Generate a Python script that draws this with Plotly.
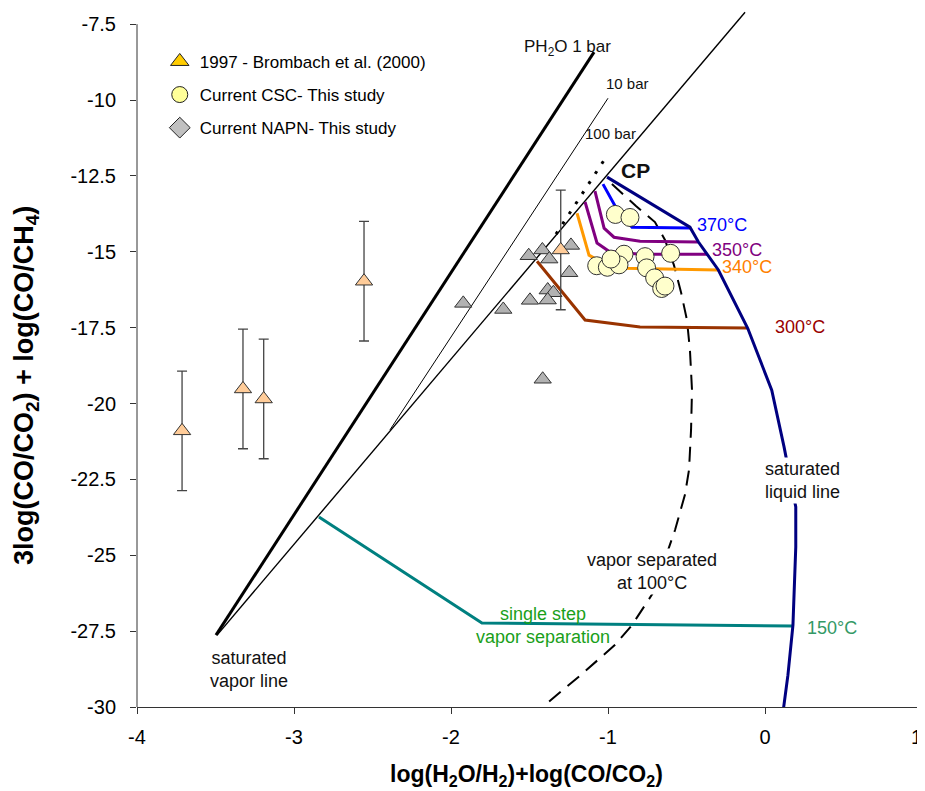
import plotly.graph_objects as go

# ---------------- data ----------------
# 1997 - Brombach et al. (2000)
bro_x = [-3.713, -3.325, -3.193, -2.554, -1.301]
bro_y = [-20.90, -19.52, -19.85, -15.97, -14.94]
bro_err = [1.97, 1.97, 1.97, 1.97, 1.97]

# Current NAPN - this study
napn_x = [-1.922, -1.667, -1.505, -1.418, -1.374, -1.236, -1.247, -1.497, -1.384, -1.348, -1.384, -1.416]
napn_y = [-16.70, -16.90, -15.13, -14.94, -15.24, -14.79, -15.69, -16.60, -16.26, -16.35, -16.59, -19.20]

# Current CSC - this study
csc_x = [-0.953, -0.860, -0.898, -0.764, -0.601, -1.072, -1.004, -0.930, -0.981, -0.754, -0.703, -0.658, -0.637]
csc_y = [-13.77, -13.87, -15.08, -15.16, -15.05, -15.46, -15.51, -15.43, -15.24, -15.53, -15.86, -16.21, -16.13]

# isobars / saturation curves
ph2o_1bar_x = [-3.497, -1.089]
ph2o_1bar_y = [-27.63, -8.42]
ph2o_10bar_x = [-2.389, -1.000]
ph2o_10bar_y = [-20.87, -9.94]
sat_vapor_x = [-3.490, -0.127]
sat_vapor_y = [-27.63, -7.105]
sat_liquid_x = [-1.006, -0.478, -0.425, -0.371, -0.297, -0.110, 0.043, 0.121, 0.196, 0.196, 0.178, 0.146, 0.115]
sat_liquid_y = [-12.54, -14.19, -14.67, -15.05, -15.60, -17.52, -19.56, -21.42, -23.41, -24.73, -27.30, -28.95, -30.16]

# vapor separated at 100 °C (dashed)
sep100_x = [-0.975, -0.822, -0.701, -0.637, -0.580, -0.535, -0.497, -0.478, -0.465, -0.471, -0.484, -0.510,
            -0.573, -0.637, -0.713, -0.847, -0.955, -1.172, -1.408, -1.471]
sep100_y = [-12.77, -13.49, -14.02, -14.61, -15.44, -16.33, -17.25, -18.24, -19.56, -20.87, -22.19, -23.01,
            -24.17, -25.15, -26.24, -27.30, -27.95, -28.94, -29.96, -30.66]

# dotted line near CP
dotted_x = [-1.331, -1.025]
dotted_y = [-14.42, -11.98]

# isotherms
t370_x = [-1.032, -0.955, -0.847, -0.478]
t370_y = [-12.77, -13.49, -14.19, -14.22]
t350a_x = [-1.083, -1.025, -0.962, -0.796, -0.427]
t350a_y = [-13.00, -14.22, -14.52, -14.65, -14.68]
t350b_x = [-1.146, -1.070, -0.994, -0.796, -0.369]
t350b_y = [-13.36, -14.71, -14.98, -15.08, -15.08]
t340_x = [-1.197, -1.121, -1.076, -0.892, -0.299]
t340_y = [-13.73, -15.11, -15.24, -15.54, -15.60]
t300_x = [-1.452, -1.146, -0.796, -0.108]
t300_y = [-15.31, -17.25, -17.48, -17.51]
t150_x = [-2.841, -1.803, 0.178]
t150_y = [-23.74, -27.23, -27.33]

y_ticks = [-30, -27.5, -25, -22.5, -20, -17.5, -15, -12.5, -10, -7.5]
y_tick_text = ["-30", "-27.5", "-25", "-22.5", "-20", "-17.5", "-15", "-12.5", "-10", "-7.5"]
x_ticks = [-4, -3, -2, -1, 0, 1]
x_tick_text = ["-4", "-3", "-2", "-1", "0", "1\u00a0\u00a0"]

FONT = "Liberation Sans, Arial, sans-serif"

fig = go.Figure()


def line(x, y, color, width, dash=None):
    fig.add_trace(go.Scatter(x=x, y=y, mode="lines", showlegend=False, hoverinfo="skip",
                             line=dict(color=color, width=width, dash=dash)))


line(ph2o_1bar_x, ph2o_1bar_y, "black", 3)
line(ph2o_10bar_x, ph2o_10bar_y, "black", 1)
line(sat_vapor_x, sat_vapor_y, "black", 1.4)
line(dotted_x, dotted_y, "black", 3, "3px,9px")
line(sep100_x, sep100_y, "black", 2, "15px,9px")
line(t150_x, t150_y, "#008080", 3)
line(t300_x, t300_y, "#993300", 3)
line(t340_x, t340_y, "#FF9900", 3)
line(t350b_x, t350b_y, "#800080", 3)
line(t350a_x, t350a_y, "#800080", 3)
line(t370_x, t370_y, "#0000FF", 3)
line(sat_liquid_x, sat_liquid_y, "#000080", 3)

# data markers
fig.add_trace(go.Scatter(x=napn_x, y=napn_y, mode="markers", showlegend=False,
                         marker=dict(symbol="triangle-up", size=15, color="#B2B2B2",
                                     line=dict(color="#333333", width=1))))
fig.add_trace(go.Scatter(x=bro_x, y=bro_y, mode="markers", showlegend=False,
                         error_y=dict(type="data", array=bro_err, visible=True,
                                      color="#444444", thickness=1.3, width=5),
                         marker=dict(symbol="triangle-up", size=15, color="#FFCC99",
                                     line=dict(color="#333333", width=1))))
fig.add_trace(go.Scatter(x=csc_x, y=csc_y, mode="markers", showlegend=False,
                         marker=dict(symbol="circle", size=18, color="#FFFFCC",
                                     line=dict(color="#333333", width=1))))

# legend entries
fig.add_trace(go.Scatter(x=[None], y=[None], mode="markers", name="1997 - Brombach et al. (2000)",
                         legendgroup="a",
                         marker=dict(symbol="triangle-up", size=16, color="#FFCC00",
                                     line=dict(color="#222222", width=1))))
fig.add_trace(go.Scatter(x=[None], y=[None], mode="markers", name="Current CSC- This study",
                         legendgroup="b",
                         marker=dict(symbol="circle", size=16, color="#FFFF99",
                                     line=dict(color="#222222", width=1))))
fig.add_trace(go.Scatter(x=[None], y=[None], mode="markers", name="Current NAPN- This study",
                         legendgroup="c",
                         marker=dict(symbol="diamond", size=16, color="#C0C0C0",
                                     line=dict(color="#222222", width=1))))

ann = []


def label(x, y, text, color="#111111", size=18, bold=False, bg=None):
    t = f"<b>{text}</b>" if bold else text
    d = dict(x=x, y=y, xref="x", yref="y", text=t, showarrow=False,
             font=dict(family=FONT, size=size, color=color), xanchor="center", yanchor="middle")
    if bg:
        d["bgcolor"] = bg
    ann.append(d)


label(-1.261, -8.29, "PH<sub>2</sub>O 1 bar", size=17)
label(-0.879, -9.44, "10 bar", size=15)
label(-0.987, -11.09, "100 bar", size=15)
label(-0.822, -12.31, "CP", size=21, bold=True)
label(-0.274, -14.12, "370°C", color="#0000FF")
label(-0.178, -14.94, "350°C", color="#800080")
label(-0.115, -15.50, "340°C", color="#FF8000")
label(0.223, -17.48, "300°C", color="#990000")
label(0.242, -22.52, "saturated<br>liquid line", bg="white")
label(0.427, -27.39, "150°C", color="#339966")
label(-0.720, -25.55, "vapor separated<br>at 100°C", bg="white")
label(-1.414, -27.30, "single step<br>vapor separation", color="#1AA01A")
label(-3.287, -28.78, "saturated<br>vapor line")

# axis titles
ann.append(dict(x=-1.516, y=0, xref="x", yref="paper", yshift=-68, showarrow=False,
                text="<b>log(H<sub>2</sub>O/H<sub>2</sub>)+log(CO/CO<sub>2</sub>)</b>",
                font=dict(family=FONT, size=23, color="black"), xanchor="center", yanchor="middle"))
ann.append(dict(x=-0.1405, y=-19.4, xref="paper", yref="y", showarrow=False, textangle=-90,
                text="<b>3log(CO/CO<sub>2</sub>) + log(CO/CH<sub>4</sub>)</b>",
                font=dict(family=FONT, size=27, color="black"), xanchor="center", yanchor="middle"))

# The page body has an 8 px margin, so the figure is offset to compensate
# (its right/bottom 8 px fall outside the window).
fig.update_layout(
    width=925, height=783,
    margin=dict(l=129, r=11, t=1, b=84, autoexpand=False),
    paper_bgcolor="white", plot_bgcolor="white",
    font=dict(family=FONT, size=18, color="black"),
    annotations=ann,
    shapes=[dict(type="line", xref="paper", yref="y", x0=0, x1=0, y0=-30, y1=-7.5,
                 line=dict(color="#333333", width=1))],
    legend=dict(x=0.029, y=0.95, xanchor="left", yanchor="top", bgcolor="rgba(0,0,0,0)",
                font=dict(family=FONT, size=17, color="black"), tracegroupgap=8),
    showlegend=True,
)
fig.update_xaxes(range=[-4, 1], tickvals=x_ticks, ticktext=x_tick_text, showgrid=False, zeroline=False,
                 showline=True, linecolor="#333333", linewidth=1, ticks="outside", ticklen=6,
                 tickcolor="#333333", tickfont=dict(family=FONT, size=20, color="black"),
                 ticklabelstandoff=6, ticklabeloverflow="allow")
fig.update_yaxes(range=[-30, -7.0], tickvals=y_ticks, ticktext=y_tick_text, showgrid=False, zeroline=False,
                 showline=False, ticks="outside", ticklen=6, tickcolor="#333333",
                 tickfont=dict(family=FONT, size=20, color="black"), ticklabelstandoff=10)

fig.write_html("out.html")
